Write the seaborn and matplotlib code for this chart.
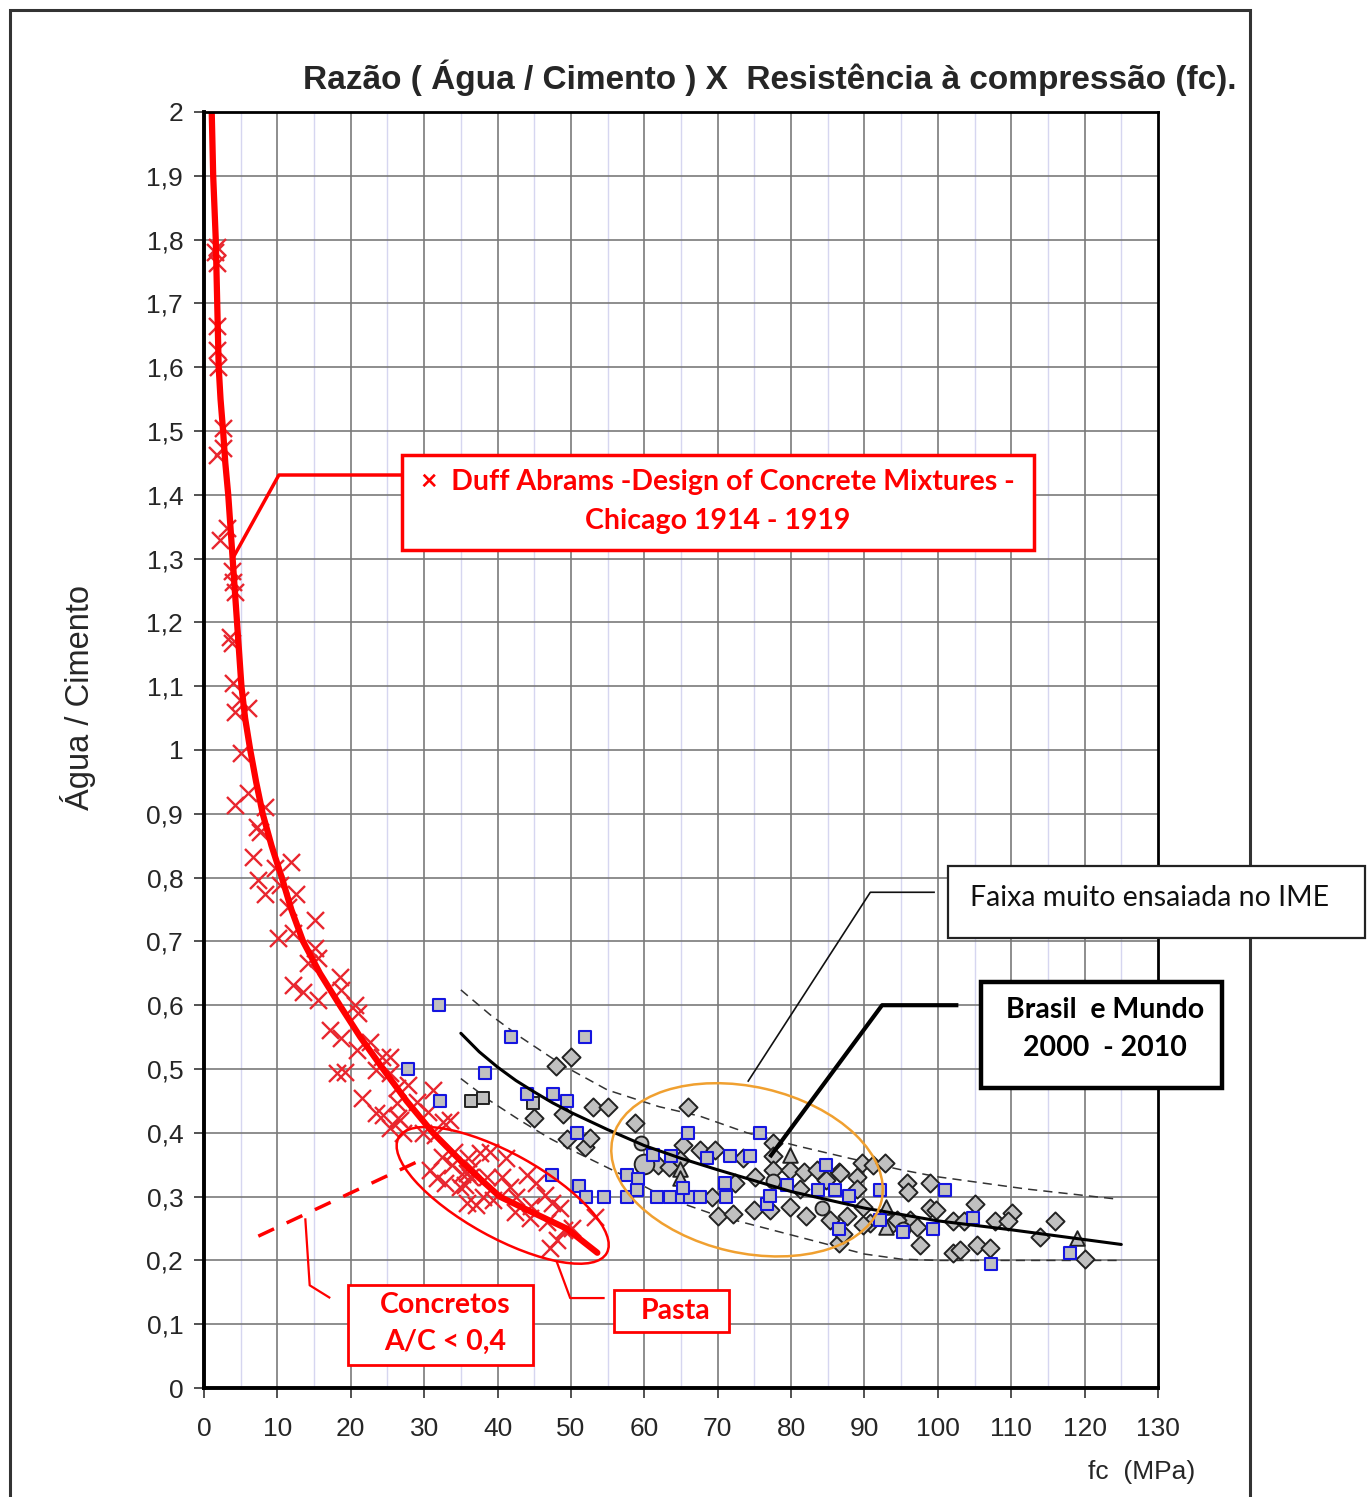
import matplotlib
matplotlib.use("Agg")
import matplotlib.pyplot as plt
import seaborn as sns
from matplotlib.patches import Ellipse, Rectangle
from matplotlib.transforms import ScaledTranslation

# Duff Abrams (1914-1919) - red x marks
abrams_fc = [1.73, 1.5, 1.73, 1.73, 1.8, 1.9, 2.6, 2.6, 1.73, 3.1, 2.2, 3.8, 3.95, 4.2,
             3.54, 3.77, 3.95, 4.9, 6.0, 4.2, 5.1, 6.0, 4.2, 8.3, 7.2, 7.6, 6.7, 9.7, 11.9,
             7.4, 10.4, 8.3, 12.6, 11.5, 15.1, 10.1, 12.1, 15.1, 15.6, 14.2, 12.1, 13.5, 15.6,
             18.5, 18.7, 20.6, 21.0, 17.2, 18.7, 20.8, 22.6, 18.1, 19.2, 24.2, 25.3, 23.5,
             25.3, 21.5, 23.5, 24.4, 26.3, 27.8, 31.2, 25.3, 26.4, 27.1, 29.0, 30.5, 32.6,
             33.5, 29.9, 31.5, 32.4, 30.8, 31.7, 32.8, 35.8, 34.9, 37.6, 39.0, 41.2, 35.8,
             37.1, 38.0, 39.4, 40.6, 41.7, 44.0, 45.3, 42.4, 44.4, 46.5, 47.4, 48.5, 46.7,
             49.0, 50.1, 53.3, 47.2, 48.1, 34.0, 36.5, 38.5, 42.5, 44.5, 33.8, 36.0, 35.2,
             36.3, 35.5, 26.3, 26.7]
abrams_ac = [1.789, 1.78, 1.763, 1.664, 1.627, 1.60, 1.505, 1.473, 1.462, 1.348, 1.329, 1.28,
             1.264, 1.248, 1.177, 1.167, 1.105, 1.078, 1.066, 1.06, 0.995, 0.932, 0.914, 0.911,
             0.88, 0.872, 0.832, 0.815, 0.824, 0.796, 0.788, 0.775, 0.775, 0.754, 0.733, 0.705,
             0.713, 0.69, 0.674, 0.666, 0.632, 0.621, 0.608, 0.644, 0.624, 0.6, 0.588, 0.561,
             0.548, 0.53, 0.542, 0.494, 0.495, 0.519, 0.519, 0.498, 0.494, 0.455, 0.431, 0.428,
             0.47, 0.475, 0.467, 0.407, 0.423, 0.4, 0.448, 0.433, 0.417, 0.42, 0.4, 0.397,
             0.362, 0.342, 0.329, 0.321, 0.337, 0.315, 0.368, 0.37, 0.36, 0.29, 0.287, 0.3,
             0.295, 0.331, 0.315, 0.334, 0.321, 0.276, 0.266, 0.302, 0.29, 0.282, 0.26, 0.248,
             0.251, 0.268, 0.219, 0.232, 0.37, 0.345, 0.33, 0.30, 0.285, 0.35, 0.36, 0.335,
             0.33, 0.318, 0.447, 0.42]

# Abrams curve
curve_fc = [1.05, 1.25, 1.6, 1.8, 2.0, 2.25, 2.6, 2.9, 3.3, 3.6, 3.9, 4.2, 4.5, 4.8, 5.1,
            5.6, 6.3, 7.1, 8.0, 9.2, 10.6, 11.9, 13.5, 15.8, 18.5, 21.3, 24.4, 27.6, 31.2,
            35.5, 40.3, 44.8, 49.4, 53.6]
curve_ac = [2.0, 1.9, 1.8, 1.7, 1.6, 1.55, 1.5, 1.45, 1.4, 1.35, 1.3, 1.25, 1.2, 1.15, 1.1,
            1.05, 1.0, 0.95, 0.9, 0.85, 0.8, 0.75, 0.7, 0.65, 0.6, 0.55, 0.5, 0.45, 0.4,
            0.35, 0.3, 0.275, 0.25, 0.212]

# Brasil e Mundo 2000-2010
blue_fc = [32.0, 27.8, 32.2, 41.9, 51.9, 38.3, 44.0, 47.6, 49.4, 50.8, 47.4, 51.1, 52.1,
           54.5, 57.6, 59.2, 57.6, 59.0, 61.7, 66.0, 75.7, 61.2, 63.7, 68.5, 71.7, 74.4,
           63.5, 65.1, 66.2, 67.6, 65.3, 71.0, 71.2, 76.7, 77.1, 79.4, 83.7, 86.0, 87.9,
           92.1, 84.8, 86.5, 101.0, 95.3, 99.4, 104.8, 107.3, 118.0, 92.1]
blue_ac = [0.60, 0.50, 0.45, 0.55, 0.55, 0.494, 0.461, 0.461, 0.45, 0.40, 0.334, 0.316, 0.30,
           0.30, 0.334, 0.328, 0.30, 0.311, 0.30, 0.40, 0.399, 0.365, 0.363, 0.36, 0.363, 0.363,
           0.30, 0.30, 0.30, 0.30, 0.313, 0.321, 0.30, 0.289, 0.301, 0.318, 0.31, 0.31, 0.301,
           0.31, 0.35, 0.25, 0.31, 0.245, 0.25, 0.266, 0.195, 0.211, 0.263]

gsq_fc = [36.4, 38.0, 44.8]
gsq_ac = [0.45, 0.455, 0.447]

dia_fc = [48.0, 50.0, 45.0, 48.9, 53.0, 55.0, 49.4, 51.9, 52.6, 58.7, 66.0, 65.3, 67.6, 69.6,
          61.9, 63.3, 64.9, 73.5, 77.6, 77.6, 75.1, 77.6, 79.9, 81.7, 83.5, 86.5, 89.0, 89.6,
          91.2, 92.8, 72.4, 69.2, 70.1, 72.1, 74.9, 77.1, 79.9, 82.1, 81.2, 84.8, 86.7, 89.0,
          85.3, 87.6, 89.8, 90.8, 86.5, 87.1, 93.9, 95.8, 96.0, 98.9, 105.1, 98.9, 99.8,
          102.1, 96.2, 97.1, 94.4, 103.5, 107.8, 110.1, 109.6, 116.0, 113.9, 97.6, 102.1,
          103.0, 105.3, 107.1, 120.1, 89.8]
dia_ac = [0.505, 0.519, 0.423, 0.429, 0.441, 0.441, 0.39, 0.378, 0.392, 0.416, 0.441, 0.381,
          0.373, 0.373, 0.35, 0.347, 0.357, 0.36, 0.384, 0.363, 0.331, 0.342, 0.342, 0.339,
          0.342, 0.339, 0.331, 0.352, 0.35, 0.352, 0.321, 0.30, 0.269, 0.273, 0.279, 0.279,
          0.284, 0.269, 0.312, 0.326, 0.337, 0.312, 0.263, 0.269, 0.284, 0.258, 0.227, 0.242,
          0.258, 0.321, 0.308, 0.321, 0.289, 0.282, 0.279, 0.261, 0.263, 0.253, 0.263, 0.261,
          0.261, 0.274, 0.261, 0.261, 0.237, 0.224, 0.211, 0.216, 0.224, 0.219, 0.203, 0.255]

tri_fc = [64.9, 64.9, 79.9, 93.0, 93.0, 119.0]
tri_ac = [0.344, 0.329, 0.365, 0.284, 0.253, 0.235]

circ_fc = [59.6, 77.6, 84.2, 95.3]
circ_ac = [0.384, 0.324, 0.282, 0.25]
bigcirc_fc = [60.0]
bigcirc_ac = [0.351]

# trend line and band
trend_fc = [35, 37.5, 40, 42.5, 45, 47.5, 50, 55, 60, 65, 70, 80, 90, 100, 110, 125]
trend_ac = [0.556, 0.527, 0.503, 0.482, 0.464, 0.447, 0.432, 0.405, 0.38, 0.36, 0.342,
            0.308, 0.282, 0.262, 0.248, 0.225]
upper_fc = [35, 39, 43, 49, 55, 62, 67.6, 74, 81, 88, 95, 100, 112, 124.5]
upper_ac = [0.624, 0.585, 0.551, 0.505, 0.467, 0.441, 0.426, 0.4, 0.379, 0.36, 0.342, 0.331,
            0.312, 0.296]
lower_fc = [35, 39, 43, 47, 51, 57, 61, 65, 70, 75, 80, 85, 90, 95, 100, 124.5]
lower_ac = [0.485, 0.45, 0.42, 0.392, 0.368, 0.334, 0.31, 0.29, 0.27, 0.255, 0.24, 0.225,
            0.21, 0.202, 0.2, 0.2]

x_ticks = list(range(0, 131, 10))
y_ticks = [i / 10 for i in range(0, 21)]
y_labels = ["0", "0,1", "0,2", "0,3", "0,4", "0,5", "0,6", "0,7", "0,8", "0,9", "1",
            "1,1", "1,2", "1,3", "1,4", "1,5", "1,6", "1,7", "1,8", "1,9", "2"]

sns.set_style("white")
plt.rcParams['font.family'] = ['Liberation Sans', 'DejaVu Sans']

RED = "#ff0000"
XRED = "#e8262e"
GRAY = "#c0c0c0"

fig = plt.figure(figsize=(13.72, 14.97), dpi=100)
ax = fig.add_axes([0.1487, 0.0728, 0.6953, 0.8524])

# grid
for x in range(5, 130, 10):
    ax.axvline(x, color="#d6d6f0", lw=1.0, zorder=0)
for x in range(10, 130, 10):
    ax.axvline(x, color="#7a7a7a", lw=1.2, zorder=0)
for y in y_ticks[1:-1]:
    ax.axhline(y, color="#7a7a7a", lw=1.2, zorder=0)

# Abrams data
sns.scatterplot(x=abrams_fc, y=abrams_ac, marker="x", color=XRED, s=150, linewidth=1.7,
                ax=ax, zorder=3, legend=False)
ax.plot(curve_fc, curve_ac, color=RED, lw=4.5, zorder=4, solid_joinstyle="round",
        solid_capstyle="round")

# modern data
sns.lineplot(x=upper_fc, y=upper_ac, color="#333333", lw=1.1, dashes=(6, 4), ax=ax, zorder=2)
sns.lineplot(x=lower_fc, y=lower_ac, color="#333333", lw=1.1, dashes=(6, 4), ax=ax, zorder=2)
sns.scatterplot(x=dia_fc, y=dia_ac, marker="D", color=GRAY, edgecolor="#222222", s=85,
                linewidth=1.4, ax=ax, zorder=3)
sns.scatterplot(x=gsq_fc, y=gsq_ac, marker="s", color=GRAY, edgecolor="#222222", s=85,
                linewidth=1.4, ax=ax, zorder=3)
sns.scatterplot(x=tri_fc, y=tri_ac, marker="^", color=GRAY, edgecolor="#222222", s=110,
                linewidth=1.4, ax=ax, zorder=3)
sns.scatterplot(x=circ_fc, y=circ_ac, marker="o", color=GRAY, edgecolor="#222222", s=100,
                linewidth=1.4, ax=ax, zorder=3)
sns.scatterplot(x=bigcirc_fc, y=bigcirc_ac, marker="o", color=GRAY, edgecolor="#222222", s=200,
                linewidth=1.4, ax=ax, zorder=3)
sns.scatterplot(x=blue_fc, y=blue_ac, marker="s", color=GRAY, edgecolor="#1515e0", s=80,
                linewidth=1.5, ax=ax, zorder=3)
sns.lineplot(x=trend_fc, y=trend_ac, color="black", lw=2.2, ax=ax, zorder=4)

# ellipses (sizes in pixels, anchored at data points)
ax.add_patch(Ellipse((0, 0), 276, 166, angle=-13, fill=False, ec="#f0a030", lw=1.8,
                     transform=ScaledTranslation(74.0, 0.342, ax.transData), zorder=5))
ax.add_patch(Ellipse((0, 0), 238, 84, angle=-29, fill=False, ec=RED, lw=1.8,
                     transform=ScaledTranslation(40.7, 0.302, ax.transData), zorder=5))
ax.plot([7.4, 29.5], [0.238, 0.357], color=RED, lw=2.5, dashes=(5, 4), zorder=5)

# axes styling
ax.set_xlim(0, 130)
ax.set_ylim(0, 2)
ax.set_xticks(x_ticks)
ax.set_yticks(y_ticks)
ax.set_yticklabels(y_labels)
ax.tick_params(axis="both", labelsize=19, length=7, width=1.2, direction="out",
               left=True, bottom=True, color="#333333", pad=8)
ax.tick_params(axis="x", pad=14)
for side in ["top", "right"]:
    ax.spines[side].set_linewidth(2.0)
for side in ["left", "bottom"]:
    ax.spines[side].set_linewidth(2.8)
for sp in ax.spines.values():
    sp.set_color("black")
    sp.set_zorder(6)
ax.set_xlabel("")
ax.set_ylabel("")

fig.text(0.561, 0.948, "Razão ( Água / Cimento ) X  Resistência à compressão (fc).",
         ha="center", va="center", fontsize=24, fontweight="bold")
fig.text(0.057, 0.534, "Água / Cimento", rotation=90, ha="center", va="center", fontsize=23.5)
fig.text(0.871, 0.0167, "fc  (MPa)", ha="right", va="center", fontsize=19)

# outer frame (behind the callout boxes)
fig.add_artist(Rectangle((10 / 1372, -0.05), 1240 / 1372, 1.05 - 10 / 1497, fill=False,
                         ec="#333333", lw=2.2, transform=fig.transFigure, zorder=-1))


def box(x0, y0, x1, y1, ec, lw):
    ax.add_patch(Rectangle((x0, y0), x1 - x0, y1 - y0, fc="white", ec=ec, lw=lw,
                           clip_on=False, zorder=8))


def leader(xs, ys, color, lw):
    ax.plot(xs, ys, color=color, lw=lw, clip_on=False, zorder=7, solid_capstyle="butt")


cal = ['Lato', 'DejaVu Sans']
FS = 20.5

# Duff Abrams callout
box(27.0, 1.313, 113.1, 1.462, RED, 2.5)
leader([27.0, 10.2, 3.9], [1.431, 1.431, 1.30], RED, 2.5)
ax.text(70.0, 1.42, "×  Duff Abrams -Design of Concrete Mixtures -", color=RED,
        fontsize=FS, fontweight="bold", ha="center", va="center", family=cal, zorder=9)
ax.text(70.0, 1.359, "Chicago 1914 - 1919", color=RED, fontsize=FS, fontweight="bold",
        ha="center", va="center", family=cal, zorder=9)

# Concretos callout
box(19.6, 0.036, 44.8, 0.161, RED, 2.0)
leader([13.8, 14.4, 17.2], [0.266, 0.161, 0.141], RED, 1.6)
ax.text(32.8, 0.130, "Concretos", color=RED, fontsize=FS, fontweight="bold",
        ha="center", va="center", family=cal, zorder=9)
ax.text(32.8, 0.072, "A/C < 0,4", color=RED, fontsize=FS, fontweight="bold",
        ha="center", va="center", family=cal, zorder=9)

# Pasta callout
box(55.9, 0.088, 71.5, 0.154, RED, 2.0)
leader([48.0, 49.9, 54.6], [0.2, 0.141, 0.141], RED, 1.6)
ax.text(64.3, 0.121, "Pasta", color=RED, fontsize=FS, fontweight="bold",
        ha="center", va="center", family=cal, zorder=9)

# Faixa callout
box(101.4, 0.705, 158.2, 0.818, "#222222", 1.6)
leader([99.6, 90.8, 74.1], [0.777, 0.777, 0.48], "#111111", 1.2)
ax.text(128.9, 0.768, "Faixa muito ensaiada no IME", color="#111111", fontsize=FS,
        ha="center", va="center", family=cal, zorder=9)

# Brasil e Mundo callout
box(105.9, 0.470, 138.7, 0.636, "black", 3.2)
leader([102.8, 92.4, 77.1], [0.600, 0.600, 0.362], "black", 3.0)
ax.text(122.8, 0.592, "Brasil  e Mundo", color="black", fontsize=FS, fontweight="bold",
        ha="center", va="center", family=cal, zorder=9)
ax.text(122.8, 0.533, "2000  - 2010", color="black", fontsize=FS, fontweight="bold",
        ha="center", va="center", family=cal, zorder=9)

fig.savefig("out.png", dpi=100, facecolor="white")
